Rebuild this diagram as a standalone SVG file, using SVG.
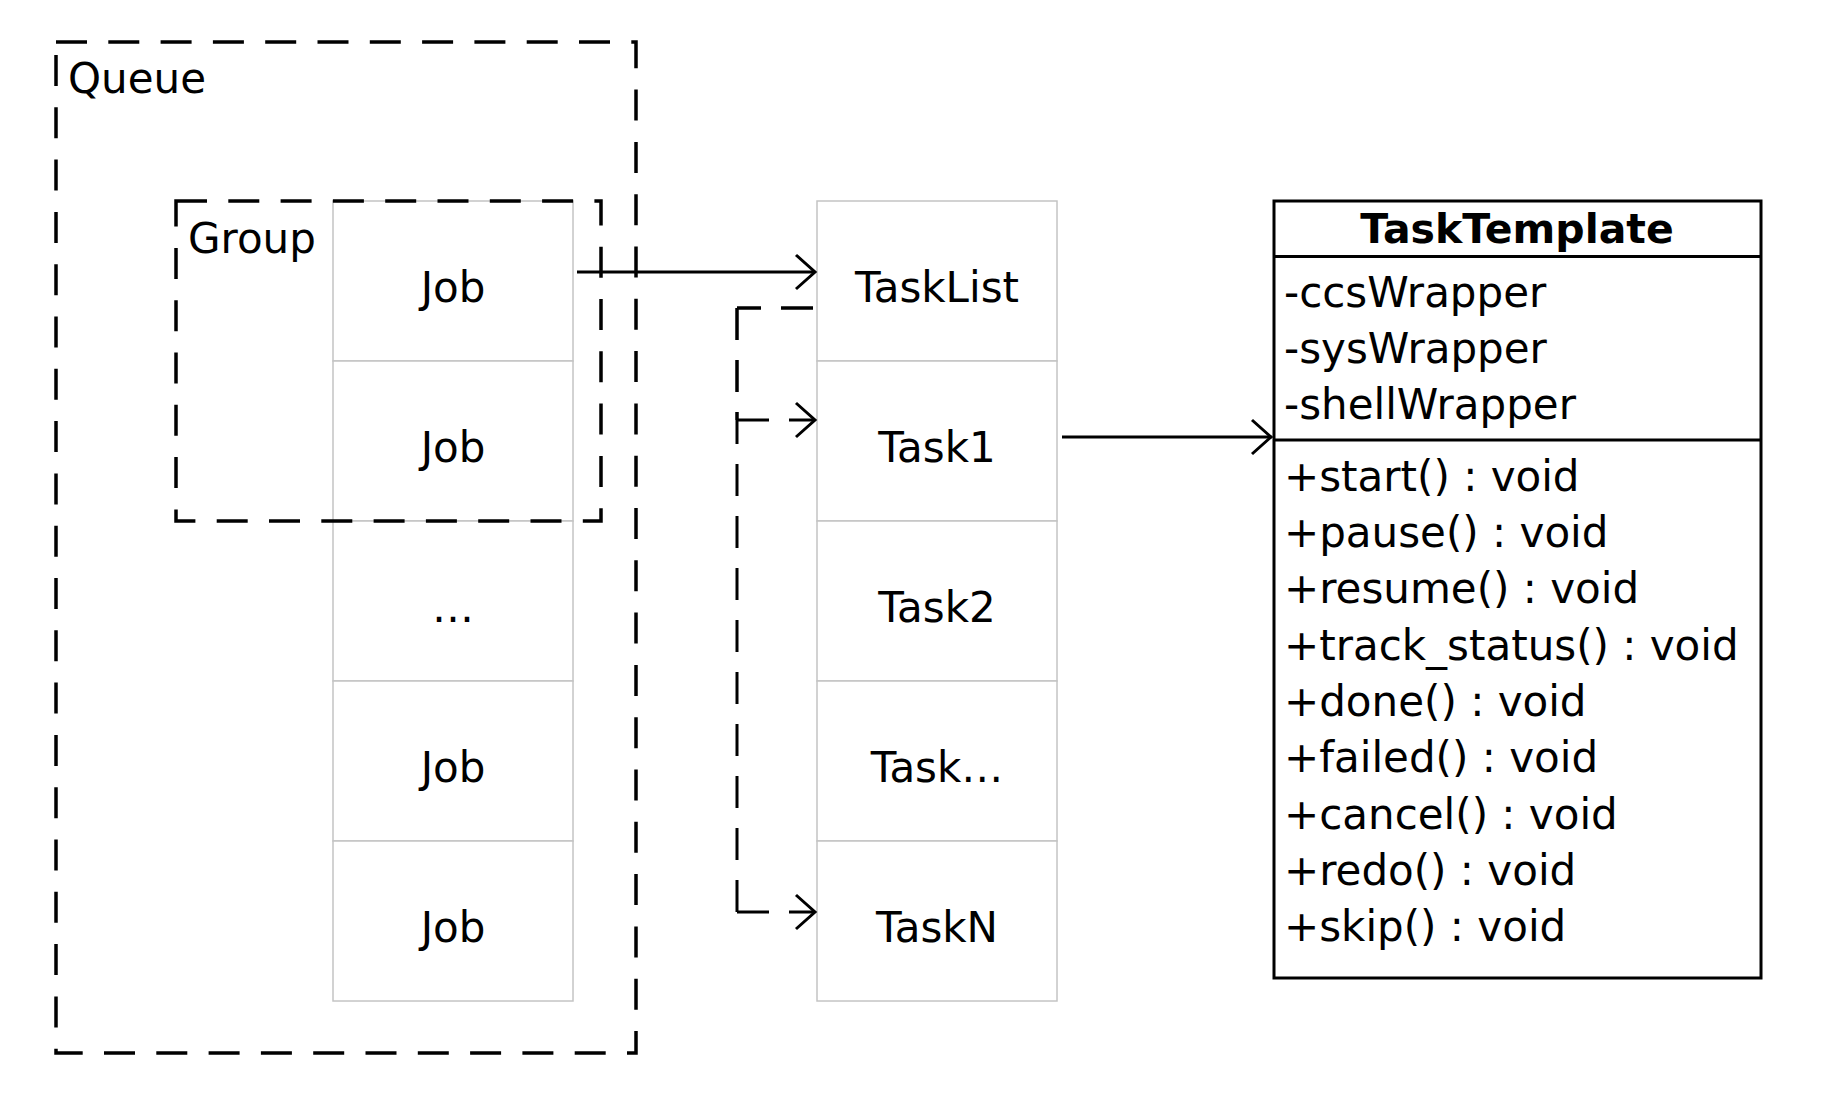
<svg xmlns="http://www.w3.org/2000/svg" width="1844" height="1100" viewBox="0 0 1844 1100">
<style>
  text { font-family: "DejaVu Sans", "Liberation Sans", sans-serif; font-size: 42px; fill: #000; }
  .c { text-anchor: middle; }
  .cell { fill: #fff; stroke: #c4c4c4; stroke-width: 1.5; }
  .frame { fill: none; stroke: #000; stroke-width: 3.5; stroke-dasharray: 31 21.3; }
  .edge { fill: none; stroke: #000; stroke-width: 3; }
  .dash { stroke-dasharray: 32 20; }
  .cls { fill: #fff; stroke: #000; stroke-width: 3; }
  .title { font-weight: bold; font-size: 41px; }
</style>
<defs>
  <marker id="arr" viewBox="0 0 24 38" refX="21" refY="19" markerWidth="24" markerHeight="38" markerUnits="userSpaceOnUse" orient="auto">
    <path d="M2,2 L21,19 L2,36" fill="none" stroke="#000" stroke-width="3"/>
  </marker>
</defs>
<rect width="1844" height="1100" fill="#fff"/>

<g id="jobs">
  <g id="job1"><rect class="cell" x="333" y="201" width="240" height="160"/><text class="c" x="453" y="302">Job</text></g>
  <g id="job2"><rect class="cell" x="333" y="361" width="240" height="160"/><text class="c" x="453" y="462">Job</text></g>
  <g id="job-more"><rect class="cell" x="333" y="521" width="240" height="160"/><text class="c" x="453" y="622">…</text></g>
  <g id="job3"><rect class="cell" x="333" y="681" width="240" height="160"/><text class="c" x="453" y="782">Job</text></g>
  <g id="job4"><rect class="cell" x="333" y="841" width="240" height="160"/><text class="c" x="453" y="942">Job</text></g>
</g>

<g id="queue">
  <rect class="frame" x="56" y="42" width="580" height="1011"/>
  <text x="68" y="93">Queue</text>
</g>

<g id="group">
  <rect class="frame" x="176" y="201" width="425" height="320"/>
  <text x="188" y="253">Group</text>
</g>

<g id="tasks">
  <g id="tasklist"><rect class="cell" x="817" y="201" width="240" height="160"/><text class="c" x="937" y="302">TaskList</text></g>
  <g id="task1"><rect class="cell" x="817" y="361" width="240" height="160"/><text class="c" x="937" y="462">Task1</text></g>
  <g id="task2"><rect class="cell" x="817" y="521" width="240" height="160"/><text class="c" x="937" y="622">Task2</text></g>
  <g id="taskmore"><rect class="cell" x="817" y="681" width="240" height="160"/><text class="c" x="937" y="782">Task…</text></g>
  <g id="taskN"><rect class="cell" x="817" y="841" width="240" height="160"/><text class="c" x="937" y="942">TaskN</text></g>
</g>

<g id="tasktemplate">
  <rect class="cls" x="1274" y="201" width="487" height="777"/>
  <line class="edge" x1="1274" y1="256.5" x2="1761" y2="256.5"/>
  <line class="edge" x1="1274" y1="440" x2="1761" y2="440"/>
  <text class="c title" x="1517" y="243">TaskTemplate</text>
  <text x="1284" y="307">-ccsWrapper</text>
  <text x="1284" y="363">-sysWrapper</text>
  <text x="1284" y="419">-shellWrapper</text>
  <text x="1284" y="491">+start() : void</text>
  <text x="1284" y="547">+pause() : void</text>
  <text x="1284" y="603">+resume() : void</text>
  <text x="1284" y="660">+track_status() : void</text>
  <text x="1284" y="716">+done() : void</text>
  <text x="1284" y="772">+failed() : void</text>
  <text x="1284" y="829">+cancel() : void</text>
  <text x="1284" y="885">+redo() : void</text>
  <text x="1284" y="941">+skip() : void</text>
</g>

<g id="connectors">
  <path class="edge" d="M577,272 H815" marker-end="url(#arr)"/>
  <path class="edge" d="M1062,437 H1271" marker-end="url(#arr)"/>
  <g id="tasklist-task1" class="edge dash">
    <line x1="813" y1="308" x2="737" y2="308"/>
    <line x1="737" y1="308" x2="737" y2="420"/>
    <line x1="737" y1="420" x2="815" y2="420" marker-end="url(#arr)"/>
  </g>
  <g id="tasklist-taskN" class="edge dash">
    <line x1="813" y1="308" x2="737" y2="308"/>
    <line x1="737" y1="308" x2="737" y2="912"/>
    <line x1="737" y1="912" x2="815" y2="912" marker-end="url(#arr)"/>
  </g>
</g>
</svg>
